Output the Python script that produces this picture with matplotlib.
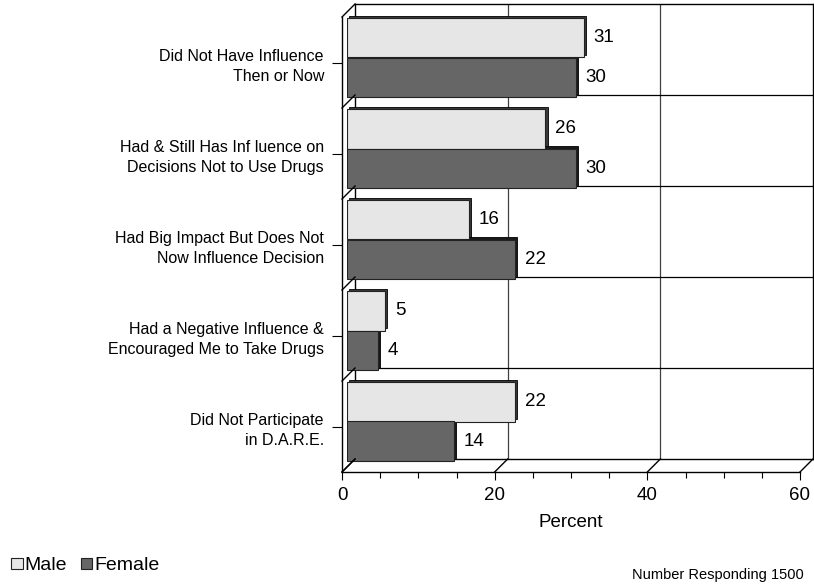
import matplotlib
matplotlib.use("Agg")
import matplotlib.pyplot as plt
from matplotlib.lines import Line2D
from matplotlib.transforms import ScaledTranslation
import numpy as np

plt.rcParams['font.family'] = ['Liberation Sans', 'DejaVu Sans']

categories = [
    "Did Not Have Influence\nThen or Now",
    "Had & Still Has Inf luence on\nDecisions Not to Use Drugs",
    "Had Big Impact But Does Not\nNow Influence Decision",
    "Had a Negative Influence &\nEncouraged Me to Take Drugs",
    "Did Not Participate\nin D.A.R.E.",
]
male = [31, 26, 16, 5, 22]
female = [30, 30, 22, 4, 14]
x_ticks = [0, 20, 40, 60]
series_names = ["Male", "Female"]
male_color = "#E6E6E6"
female_color = "#666666"

W, H = 814, 586
fig = plt.figure(figsize=(W / 100, H / 100), dpi=100)

# front plane axes (pixels): x 342..800, y 17..472 (top-down)
fx0, fy0, fw, fh = 342, 114, 458, 455
depth = 13
bar_d = 5

def pos(x, y):
    return [x / W, y / H, fw / W, fh / H]

n = len(categories)
ylims = (n - 0.5, -0.5)

ax_back = fig.add_axes(pos(fx0 + depth, fy0 + depth))
ax_front = fig.add_axes(pos(fx0, fy0))
ax_bar = fig.add_axes(pos(fx0 + bar_d, fy0 + bar_d))
for a in (ax_back, ax_front, ax_bar):
    a.set_xlim(0, 60)
    a.set_ylim(*ylims)
    a.patch.set_visible(False)

# back wall
for s in ax_back.spines.values():
    s.set_linewidth(1.0)
    s.set_color("black")
ax_back.set_xticks(x_ticks[1:-1])
ax_back.set_yticks(np.arange(n - 1) + 0.5)
ax_back.tick_params(length=0, labelbottom=False, labelleft=False)
ax_back.grid(True, axis="x", color="#404040", linewidth=0.9)
ax_back.grid(True, axis="y", color="black", linewidth=0.9)

# front axes: left wall + floor
ax_front.spines["top"].set_visible(False)
ax_front.spines["right"].set_visible(False)
for s in ("left", "bottom"):
    ax_front.spines[s].set_linewidth(1.0)
ax_front.set_xticks(x_ticks)
ax_front.set_xticks(np.arange(0, 61, 5), minor=True)
ax_front.set_yticks(range(n))
ax_front.set_yticklabels(categories, fontsize=11.5, linespacing=1.4, ha="right")
ax_front.tick_params(axis="y", length=7, width=0.8, pad=6)
ax_front.tick_params(axis="x", which="major", length=6, width=0.8, labelsize=13.5, pad=5)
ax_front.tick_params(axis="x", which="minor", length=4, width=0.8)
ax_front.set_xlabel("Percent", fontsize=13.5, labelpad=7)

# depth diagonals
fig.canvas.draw()
def diag(fxa, fya):
    p0 = ax_front.transAxes.transform((fxa, fya))
    line = Line2D([p0[0], p0[0] + depth], [p0[1], p0[1] + depth],
                  transform=None, color="black", linewidth=1.0)
    fig.add_artist(line)
for xv in x_ticks:
    diag(xv / 60, 0)
for k in range(n + 1):
    diag(0, k / n)

# bars
ax_bar.axis("off")
y = np.arange(n)
bh = 0.434
shadow = ax_bar.transData + ScaledTranslation(0.022, 0.022, fig.dpi_scale_trans)
ax_bar.barh(y - bh / 2, male, height=bh, color="#3a3a3a", edgecolor="black",
            linewidth=0.6, transform=shadow, zorder=1)
ax_bar.barh(y + bh / 2, female, height=bh, color="#1a1a1a", edgecolor="black",
            linewidth=0.6, transform=shadow, zorder=1)
ax_bar.barh(y - bh / 2, male, height=bh, color=male_color, edgecolor="#222222",
            linewidth=0.8, zorder=2, label=series_names[0])
ax_bar.barh(y + bh / 2, female, height=bh, color=female_color, edgecolor="#222222",
            linewidth=0.8, zorder=2, label=series_names[1])
for yi, (m, f) in enumerate(zip(male, female)):
    ax_bar.annotate(str(m), (m, yi - bh / 2), xytext=(7, 0), textcoords="offset points",
                    va="center", ha="left", fontsize=13.5)
    ax_bar.annotate(str(f), (f, yi + bh / 2), xytext=(7, 0), textcoords="offset points",
                    va="center", ha="left", fontsize=13.5)

# legend
handles = [plt.Rectangle((0, 0), 1, 1, facecolor=male_color, edgecolor="#222222", linewidth=0.8),
           plt.Rectangle((0, 0), 1, 1, facecolor=female_color, edgecolor="#222222", linewidth=0.8)]
fig.legend(handles, series_names, loc="center left", bbox_to_anchor=(5 / W, 1 - 566 / H),
           ncol=2, frameon=False, fontsize=14, handlelength=0.6, handleheight=0.5,
           handletextpad=0.1, columnspacing=0.7, borderaxespad=0.0, borderpad=0.3)

fig.text(804 / W, 1 - 575.5 / H, "Number Responding 1500", fontsize=10.5, ha="right", va="center")

fig.savefig("out.png", dpi=100)
